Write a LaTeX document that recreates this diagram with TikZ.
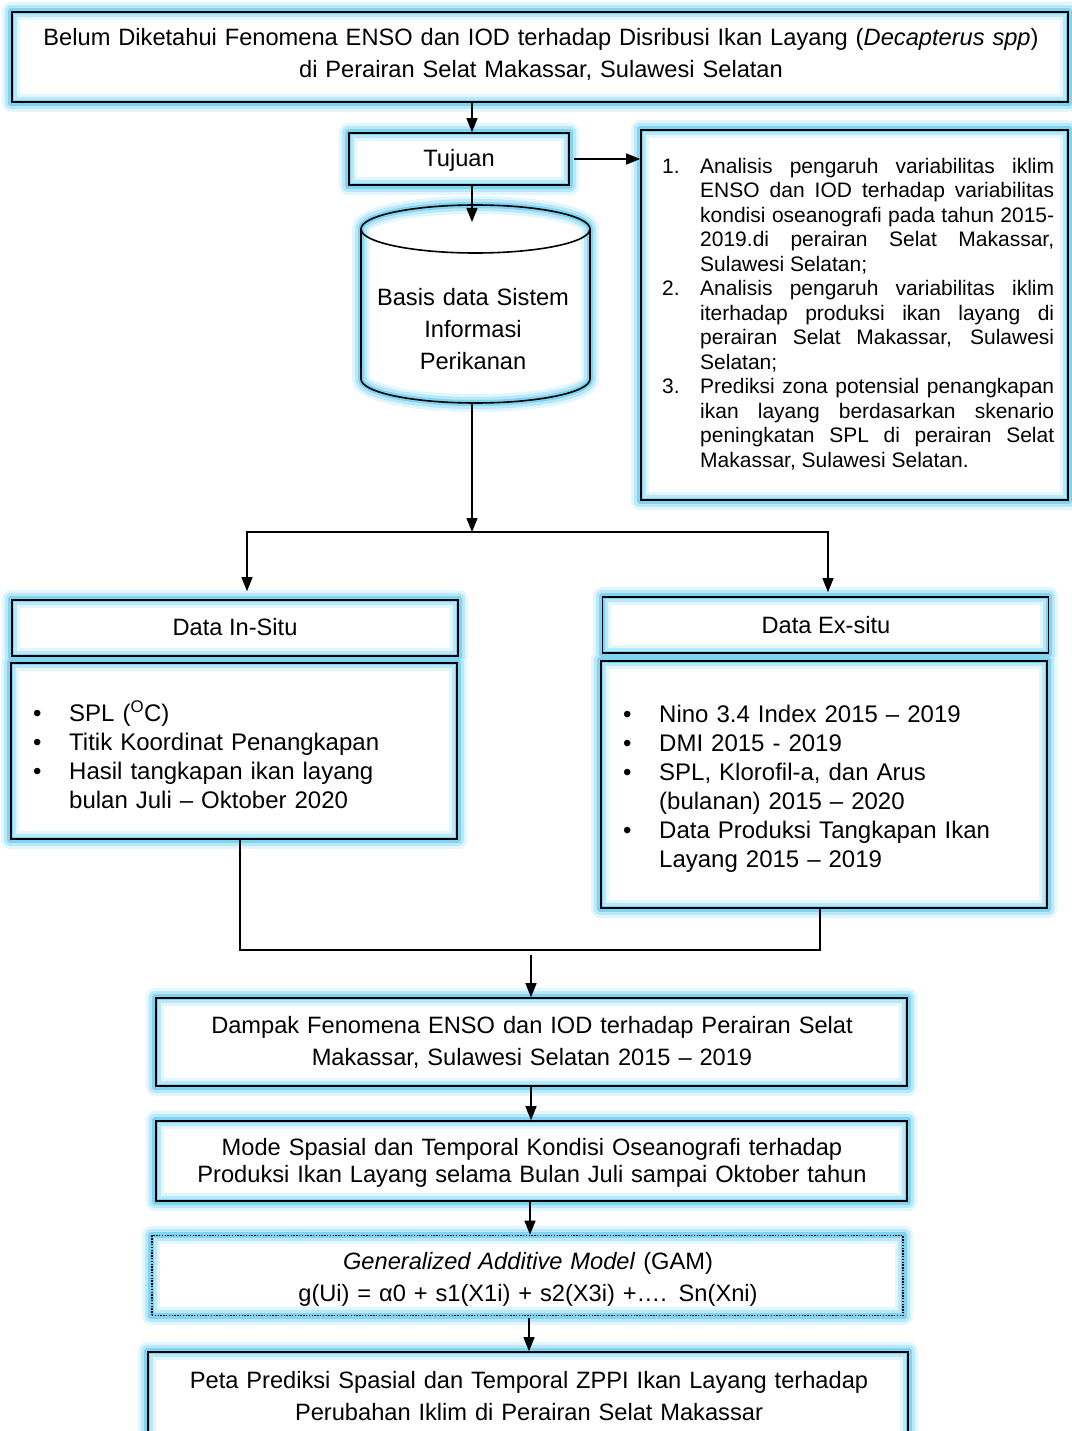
\documentclass[tikz,border=0pt]{standalone}
\usepackage{fontspec}
\setmainfont{Liberation Sans}
\usetikzlibrary{arrows.meta}
\definecolor{glA}{RGB}{226,246,253}
\definecolor{glB}{RGB}{184,232,249}
\definecolor{glC}{RGB}{128,212,242}
\pgfdeclarelayer{bg}
\pgfdeclarelayer{glow}
\pgfsetlayers{bg,glow,main}
\tikzset{
  boxn/.style={draw=black, line width=1.6pt, rectangle, inner sep=0pt},
  txt/.style={inner sep=0pt, font=\fontsize{23.65}{32}\selectfont, align=center},
  listtxt/.style={inner sep=0pt, anchor=west, align=left},
  arr/.style={line width=1.3pt, -{Triangle[length=14pt,width=11pt]}},
  conn/.style={line width=1.3pt, line cap=rect},
  dotbox/.style={dash pattern=on 1.4pt off 1.4pt},
}
\newcommand{\bitem}[1]{\hangindent=36pt\hangafter=1\noindent\makebox[36pt][l]{\textbullet}#1\par}
\newcommand{\nitem}[2]{\hangindent=38pt\hangafter=1\noindent\makebox[38pt][l]{#1}#2\par}
\begin{document}
\begin{tikzpicture}[x=1pt,y=-1pt]
\useasboundingbox (0,0) rectangle (1071,1431);
\begin{pgfonlayer}{bg}\fill[white] (0,0) rectangle (1071,1431);\end{pgfonlayer}

% boxes
\node[boxn, minimum width=1056pt, minimum height=90pt] (top) at (540,57) {};
\node[boxn, minimum width=220pt, minimum height=52pt] (tujuan) at (459,159) {};
\node[boxn, minimum width=427pt, minimum height=370pt] (tujlist) at (854.5,315) {};
\node[boxn, minimum width=446pt, minimum height=56pt] (insitu) at (235,628) {};
\node[boxn, minimum width=446pt, minimum height=176pt] (insitulist) at (234,751) {};
\node[boxn, minimum width=446pt, minimum height=56pt] (exsitu) at (825.5,625) {};
\node[boxn, minimum width=446pt, minimum height=247pt] (exsitulist) at (824,784.5) {};
\node[boxn, minimum width=751pt, minimum height=88pt] (dampak) at (531.5,1042) {};
\node[boxn, minimum width=751pt, minimum height=80pt] (mode) at (531.5,1161) {};
\node[boxn, dotbox, minimum width=751pt, minimum height=80pt] (gam) at (527.5,1275.5) {};
\node[boxn, minimum width=760pt, minimum height=100pt] (peta) at (528,1402) {};

% cylinder
\draw[line width=1.6pt, line join=round] (361,229) -- (361,379)
  arc[start angle=180,end angle=360,x radius=114.5pt,y radius=24pt] -- (590,229)
  arc[start angle=0,end angle=180,x radius=114.5pt,y radius=24pt] -- cycle;
\draw[line width=1.6pt] (361,229) arc[start angle=180,end angle=360,x radius=114.5pt,y radius=24pt];
\coordinate (cyltop) at (472,222);
\coordinate (cylbot) at (472,403);

% glow
\begin{pgfonlayer}{glow}
\foreach \gw/\gcl in {18/glA,12/glB,6/glC}{
  \foreach \n in {top,tujuan,tujlist,insitu,insitulist,exsitu,exsitulist,dampak,mode,gam,peta}{
    \draw[draw=\gcl, line width=\gw pt, line join=round] (\n.south west) rectangle (\n.north east);
  }
  \draw[draw=\gcl, line width=\gw pt, line join=round] (361,229) -- (361,379)
  arc[start angle=180,end angle=360,x radius=114.5pt,y radius=24pt] -- (590,229)
  arc[start angle=0,end angle=180,x radius=114.5pt,y radius=24pt] -- cycle;
}
\end{pgfonlayer}

% texts
\node[txt, text width=1040pt] (ttop) at (541,54) {Belum Diketahui Fenomena ENSO dan IOD terhadap Disribusi Ikan Layang (\textit{Decapterus spp})\\di Perairan Selat Makassar, Sulawesi Selatan};
\node[txt] (ttuj) at (459,160) {Tujuan};
\node[txt, text width=220pt] (tcyl) at (473,329) {Basis data Sistem\\Informasi\\Perikanan};
\node[listtxt, text width=392pt, align=justify, font=\fontsize{21}{24.5}\selectfont] (tlist) at (662,314) {%
\nitem{1.}{Analisis pengaruh variabilitas iklim\linebreak ENSO dan IOD terhadap variabilitas\linebreak kondisi oseanografi pada tahun 2015-\linebreak 2019.di perairan Selat Makassar,\linebreak Sulawesi Selatan;}
\nitem{2.}{Analisis pengaruh variabilitas iklim\linebreak iterhadap produksi ikan layang di\linebreak perairan Selat Makassar, Sulawesi\linebreak Selatan;}
\nitem{3.}{Prediksi zona potensial penangkapan\linebreak ikan layang berdasarkan skenario\linebreak peningkatan SPL di perairan Selat\linebreak Makassar, Sulawesi Selatan.}};
\node[txt] (tin) at (235,627) {Data In-Situ};
\node[listtxt, text width=420pt, font=\fontsize{24}{29}\selectfont] (tinl) at (33,755) {%
\bitem{SPL (\textsuperscript{O}C)}\bitem{Titik Koordinat Penangkapan}\bitem{Hasil tangkapan ikan layang\newline bulan Juli – Oktober 2020}};
\node[txt] (tex) at (826,625) {Data Ex-situ};
\node[listtxt, text width=415pt, font=\fontsize{24}{29}\selectfont] (texl) at (623,789) {%
\bitem{Nino 3.4 Index 2015 – 2019}\bitem{DMI 2015 - 2019}\bitem{SPL, Klorofil-a, dan Arus\newline (bulanan) 2015 – 2020}\bitem{Data Produksi Tangkapan Ikan\newline Layang 2015 – 2019}};
\node[txt, text width=740pt] (tdam) at (532,1042.5) {Dampak Fenomena ENSO dan IOD terhadap Perairan Selat\\Makassar, Sulawesi Selatan 2015 – 2019};
\node[txt, text width=740pt, font=\fontsize{23.65}{27}\selectfont] (tmode) at (532,1162.5) {Mode Spasial dan Temporal Kondisi Oseanografi terhadap\\Produksi Ikan Layang selama Bulan Juli sampai Oktober tahun};
\node[txt, text width=740pt] (tgam) at (528,1279) {\textit{Generalized Additive Model} (GAM)\\g(Ui) = α0 + s1(X1i) + s2(X3i) +…. Sn(Xni)};
\node[txt, text width=750pt] (tpeta) at (529,1396) {Peta Prediksi Spasial dan Temporal ZPPI Ikan Layang terhadap\\Perubahan Iklim di Perairan Selat Makassar};

% connectors
\draw[arr] (top.south -| cyltop) -- (tujuan.north -| cyltop);
\draw[arr] (tujuan.south -| cyltop) -- (cyltop);
\draw[arr] ([xshift=4pt]tujuan.east) -- (tujlist.west |- tujuan.east);
\coordinate (split) at (472,532);
\coordinate (sL) at (247,532);
\coordinate (sR) at (828,532);
\draw[arr] (cylbot) -- (split);
\draw[conn] (sL) -- (sR);
\draw[arr] (sL) -- ([yshift=8pt]insitu.north -| sL);
\draw[arr] (sR) -- ([yshift=4pt]exsitu.north -| sR);
\coordinate (jL) at (240,950);
\coordinate (jR) at (820,950);
\coordinate (jM) at (531,950);
\draw[conn] (insitulist.south -| jL) -- (jL) -- (jR) -- (exsitulist.south -| jR);
\draw[arr] ([yshift=-5pt]jM) -- (dampak.north -| jM);
\draw[arr] (dampak.south -| jM) -- (mode.north -| jM);
\coordinate (gx) at (530,0);
\draw[arr] (mode.south -| gx) -- (gam.north -| gx);
\coordinate (px) at (529,0);
\draw[arr] ([yshift=-2pt]gam.south -| px) -- (peta.north -| px);
\end{tikzpicture}
\end{document}
